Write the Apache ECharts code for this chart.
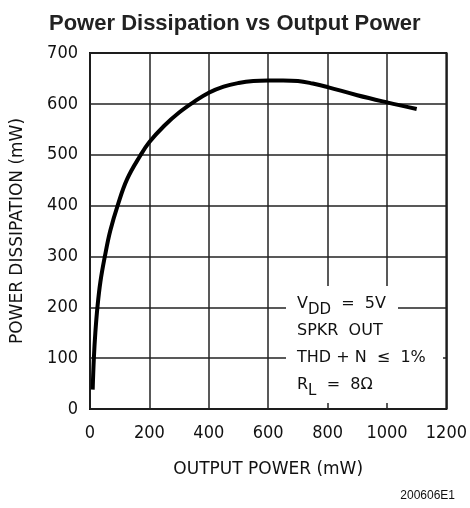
<!DOCTYPE html>
<html>
<head>
<meta charset="utf-8">
<script src="https://cdn.jsdelivr.net/npm/echarts@6/dist/echarts.min.js"></script>
<style>
  html, body { margin: 0; padding: 0; background: #fff; }
  #chart { width: 470px; height: 508px; }
</style>
</head>
<body>
<div id="chart"></div>
<script>
// output power (mW) vs power dissipation (mW)
var outPower = [9, 13, 18, 25, 35, 50, 68, 93, 125, 170, 200, 250, 300, 350, 400, 450, 500, 550, 600, 650, 700, 750, 800, 900, 1000, 1100];
var dissipation = [38, 100, 150, 200, 250, 300, 350, 400, 452, 499, 525, 557, 583, 604, 622, 634, 641, 645, 646, 646, 645, 640, 633, 617, 603, 590];
var xTicks = [0, 200, 400, 600, 800, 1000, 1200];
var yTicks = [0, 100, 200, 300, 400, 500, 600, 700];

var numFont = '"DejaVu Sans Condensed", "DejaVu Sans", sans-serif';
var nameFont = '"DejaVu Sans", sans-serif';

var curve = outPower.map(function (x, i) { return [x, dissipation[i]]; });

var chart = echarts.init(document.getElementById('chart'));
var option = {
    animation: false,
    backgroundColor: '#fff',
    title: {
        text: 'Power Dissipation vs Output Power',
        left: 44,
        top: 8,
        textStyle: { fontFamily: '"Liberation Sans", Arial, sans-serif', fontWeight: 'bold', fontSize: 22, color: '#222' }
    },
    grid: { left: 90, right: 23, top: 53, bottom: 99, show: true, borderColor: '#111', borderWidth: 2 },
    xAxis: {
        type: 'value',
        min: xTicks[0], max: xTicks[xTicks.length - 1], interval: 200,
        name: 'OUTPUT POWER (mW)',
        nameLocation: 'middle',
        nameGap: 52,
        nameTextStyle: { fontFamily: nameFont, fontSize: 17, color: '#111' },
        axisLine: { show: false },
        axisTick: { show: false },
        axisLabel: { fontFamily: numFont, fontSize: 18, color: '#111', margin: 15, formatter: function (v) { return String(v); } },
        splitLine: { lineStyle: { color: '#222', width: 1.5 } }
    },
    yAxis: {
        type: 'value',
        min: yTicks[0], max: yTicks[yTicks.length - 1], interval: 100,
        name: 'POWER DISSIPATION (mW)',
        nameLocation: 'middle',
        nameGap: 64,
        nameTextStyle: { fontFamily: nameFont, fontSize: 17, color: '#111' },
        axisLine: { show: false },
        axisTick: { show: false },
        axisLabel: { fontFamily: numFont, fontSize: 18, color: '#111', margin: 12 },
        splitLine: { lineStyle: { color: '#222', width: 1.5 } }
    },
    series: [{
        type: 'line',
        data: curve,
        smooth: 0.4,
        symbol: 'none',
        lineStyle: { color: '#000', width: 4 },
        z: 3
    }],
    graphic: [
        {
            type: 'rect',
            shape: { x: 286, y: 286, width: 112, height: 117 },
            style: { fill: '#fff' },
            z: 10
        },
        {
            type: 'rect',
            shape: { x: 396, y: 342, width: 47, height: 30 },
            style: { fill: '#fff' },
            z: 10
        },
        {
            type: 'text',
            left: 297, top: 290,
            z: 11,
            style: {
                text: '{n|V}{s|DD}{n|  =  5V}\n{n|SPKR  OUT}\n{n|THD + N  ≤  1%}\n{n|R}{s|L}{n|  =  8Ω}',
                rich: {
                    n: { fontFamily: nameFont, fontSize: 16, fill: '#111', lineHeight: 27 },
                    s: { fontFamily: nameFont, fontSize: 15, fill: '#111', padding: [13, 0, 0, 0], lineHeight: 27 }
                }
            }
        },
        {
            type: 'text',
            right: 15, top: 490,
            style: { text: '200606E1', fontFamily: '"Liberation Sans", Arial, sans-serif', fontSize: 12, fill: '#111' }
        }
    ]
};
chart.setOption(option);
</script>
</body>
</html>
